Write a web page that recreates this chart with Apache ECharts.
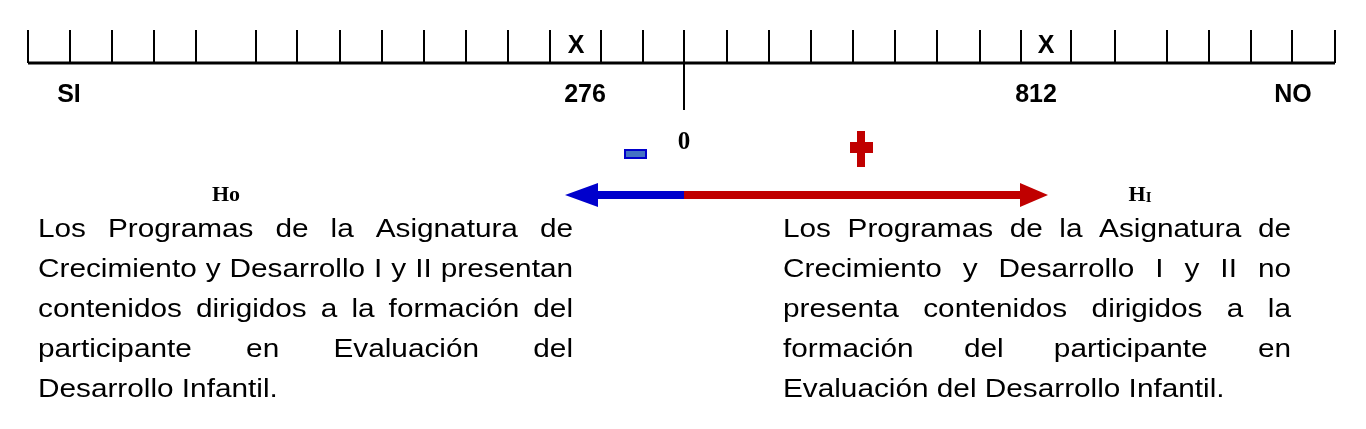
<!DOCTYPE html><html><head><meta charset="utf-8"><script src="https://cdn.jsdelivr.net/npm/echarts@6/dist/echarts.min.js"></script>
<style>html,body{margin:0;background:#fff}#c{width:1366px;height:429px}</style></head><body><div id="c"></div><script>
const tickX=[28,70,112,154,196,256,297,340,382,424,466,508,550,601,643,684,727,769,811,853,895,937,980,1021,1071,1115,1167,1209,1251,1292,1335];
const scaleLabels=[{t:'SI',x:69},{t:'276',x:585},{t:'812',x:1036},{t:'NO',x:1293}];
const marks=[{t:'X',x:576},{t:'X',x:1046}];
const leftLines=['Los Programas de la Asignatura de','Crecimiento y Desarrollo I y II presentan','contenidos dirigidos a la formación del','participante en Evaluación del','Desarrollo Infantil.'];
const rightLines=['Los Programas de la Asignatura de','Crecimiento y Desarrollo I y II no','presenta contenidos dirigidos a la','formación del participante en','Evaluación del Desarrollo Infantil.'];
const chart=echarts.init(document.getElementById('c'));
const font='25px "Liberation Sans", Arial, sans-serif';
const SX=1.19;
const ctx=document.createElement('canvas').getContext('2d');ctx.font=font;
const mw=a=>ctx.measureText(a).width*SX;
function txt(t,x,y){return {type:'text',x:x,y:y,scaleX:SX,style:{text:t,x:0,y:0,font:font,fill:'#000',verticalAlign:'middle'}};}
function block(lines,x0,x1,y0,lh){const out=[];lines.forEach((ln,i)=>{const y=y0+i*lh;const w=ln.split(' ');
 if(i===lines.length-1){out.push(txt(ln,x0,y));return;}
 const tw=w.reduce((s,a)=>s+mw(a),0);const gap=(x1-x0-tw)/(w.length-1);let x=x0;
 w.forEach(a=>{out.push(txt(a,x,y));x+=mw(a)+gap;});});return out;}
const g=[
 ...block(leftLines,38,573,230,40),...block(rightLines,783,1291,230,40),
 ...scaleLabels.map(s=>({type:'text',style:{text:s.t,x:s.x,y:95,font:'bold 25px "Liberation Sans", Arial',fill:'#000',align:'center',verticalAlign:'middle'}})),
 ...marks.map(s=>({type:'text',style:{text:s.t,x:s.x,y:46,font:'bold 25px "Liberation Sans", Arial',fill:'#000',align:'center',verticalAlign:'middle'}})),
 {type:'text',style:{text:'0',x:684,y:143,font:'bold 25px "Liberation Serif", serif',fill:'#000',align:'center',verticalAlign:'middle'}},
 {type:'text',style:{text:'Ho',x:226,y:195,font:'bold 22px "Liberation Serif", serif',fill:'#000',align:'center',verticalAlign:'middle'}},
 {type:'text',style:{rich:{a:{font:'bold 22px "Liberation Serif", serif'},b:{font:'bold 15px "Liberation Serif", serif',padding:[6,0,0,0]}},text:'{a|H}{b|I}',x:1140,y:195,align:'center',verticalAlign:'middle'}},
 {type:'rect',shape:{x:625,y:150,width:21,height:8},style:{fill:'#4472c4',stroke:'#0000cc',lineWidth:2}},
 {type:'rect',shape:{x:857,y:131,width:8,height:36},style:{fill:'#c00000'}},
 {type:'rect',shape:{x:850,y:142,width:23,height:11},style:{fill:'#c00000'}},
 {type:'rect',shape:{x:596,y:191,width:88,height:8},style:{fill:'#0000cc'}},
 {type:'polygon',shape:{points:[[565,195],[598,183],[598,207]]},style:{fill:'#0000cc'}},
 {type:'rect',shape:{x:684,y:191,width:340,height:8},style:{fill:'#c00000'}},
 {type:'polygon',shape:{points:[[1048,195],[1020,183],[1020,207]]},style:{fill:'#c00000'}}
];
chart.setOption({animation:false,grid:{left:0,right:0,top:0,bottom:0},
 xAxis:{type:'value',min:0,max:1366,show:false},yAxis:{type:'value',min:0,max:429,inverse:true,show:false},
 graphic:g,
 series:[{type:'custom',data:tickX.map(x=>[x]),renderItem:(p,api)=>{const x=api.value(0);const c=x===684;const a=api.coord([x,30]),b=api.coord([x,c?110:63]);
  return {type:'line',shape:{x1:a[0],y1:a[1],x2:b[0],y2:b[1]},style:{stroke:'#000',lineWidth:2}};}},
 {type:'custom',data:[[28,1335]],renderItem:(p,api)=>{const a=api.coord([api.value(0),63]),b=api.coord([api.value(1),63]);return {type:'line',shape:{x1:a[0],y1:a[1],x2:b[0],y2:b[1]},style:{stroke:'#000',lineWidth:3}};}}]});
</script></body></html>
